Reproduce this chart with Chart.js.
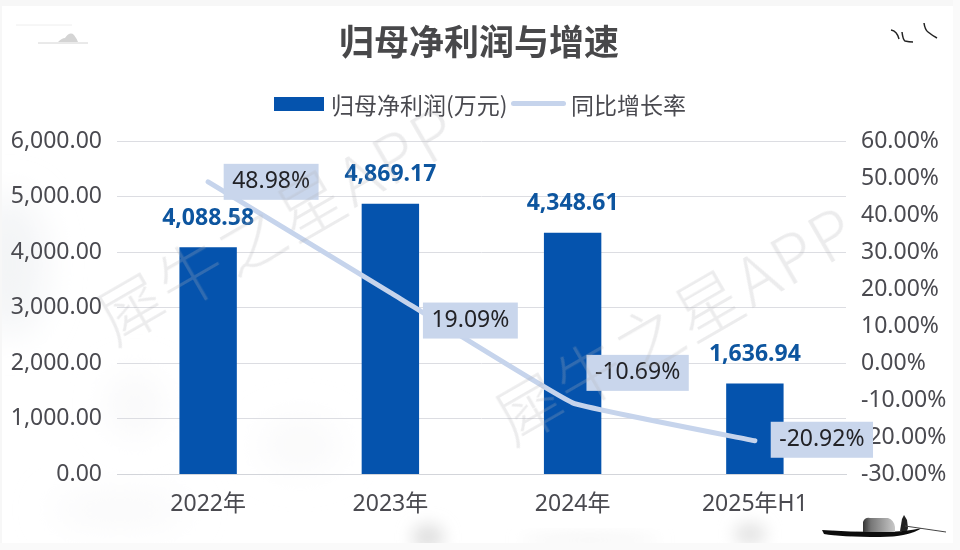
<!DOCTYPE html>
<html lang="zh">
<head>
<meta charset="utf-8">
<title>归母净利润与增速</title>
<script src="https://cdn.jsdelivr.net/npm/chart.js@4/dist/chart.umd.min.js"></script>
<style>
  html, body { margin: 0; padding: 0; background: #fff; }
  body { width: 960px; height: 550px; position: relative; overflow: hidden; font-family: "Noto Sans CJK SC", "Noto Sans", sans-serif; }
  #bg { position: absolute; inset: 0; }
  #chart { position: absolute; left: 0; top: 0; width: 960px; height: 550px; }
  h1 { position: absolute; left: 0; width: 958px; top: 17px; margin: 0; text-align: center; font-size: 35px; line-height: 46px; font-weight: 700; color: #48484a; }
  .legend { position: absolute; top: 91px; height: 26px; line-height: 26px; font-size: 23px; color: #4a4a50; white-space: nowrap; }
  .swatch { position: absolute; }
  .mark { position: absolute; height: 66px; line-height: 66px; color: #b4b4b8; opacity: .25; font-size: 66px; letter-spacing: 3px; white-space: nowrap; transform: rotate(-30deg); transform-origin: left bottom; font-family: "Noto Sans CJK SC", sans-serif; font-weight: 300; }
</style>
</head>
<body>
<svg id="bg" width="960" height="550" viewBox="0 0 960 550">
  <defs>
    <filter id="b1" x="-100%" y="-100%" width="300%" height="300%"><feGaussianBlur stdDeviation="18"/></filter>
    <filter id="b2" x="-100%" y="-100%" width="300%" height="300%"><feGaussianBlur stdDeviation="8"/></filter>
    <filter id="b3"><feGaussianBlur stdDeviation="0.4"/></filter>
    <linearGradient id="cabin"><stop offset="0" stop-color="#333"/><stop offset="0.25" stop-color="#777"/><stop offset="1" stop-color="#c8c8c8"/></linearGradient>
  </defs>
  <ellipse cx="10" cy="265" rx="35" ry="70" fill="#f3f4f6" filter="url(#b1)"/>
  <ellipse cx="135" cy="405" rx="25" ry="30" fill="#f8f8f9" filter="url(#b1)"/>
  <ellipse cx="300" cy="445" rx="40" ry="25" fill="#f9f9fa" filter="url(#b1)"/>
  <ellipse cx="120" cy="510" rx="70" ry="14" fill="#f8f8f9" filter="url(#b1)"/>
  <ellipse cx="428" cy="537" rx="16" ry="13" fill="#e0e0e0" filter="url(#b2)"/>
  <ellipse cx="750" cy="534" rx="16" ry="11" fill="#e3e3e3" filter="url(#b2)"/>
  <ellipse cx="590" cy="540" rx="70" ry="4" fill="#f0f0f0" filter="url(#b2)"/>
  <rect x="0" y="0" width="960" height="6" fill="#f7f7f7"/>
  <rect x="0" y="0" width="2" height="550" fill="#f7f7f7"/>
  <rect x="953" y="0" width="7" height="550" fill="#fafafa"/>
  <rect x="0" y="543" width="960" height="7" fill="#fafafa"/>
  <g filter="url(#b3)">
    <path d="M16 25H72" stroke="#eeeeee" stroke-width="1" fill="none"/>
    <path d="M38 43H88" stroke="#d4d4d4" stroke-width="1" fill="none"/>
    <path d="M58 42Q62 38 65 38Q70 31 74 35Q77 39 78 42Z" fill="#d4d4d4"/>
    <path d="M891 30Q897 31 899 39M902 32Q903 40 905 41Q909 42 913 42M924 23Q925 30 928 32Q933 36 937 38" stroke="#222" stroke-width="1.5" fill="none"/>
    <path d="M822 530Q850 532 880 532Q905 532 922 528Q908 537 880 537Q840 537 824 534Z" fill="#111"/>
    <path d="M863 532V522Q865 517 870 518H888Q894 520 895 527V532Z" fill="url(#cabin)"/>
    <path d="M900 531L902 519L904 515L907 520L908 528L907 531Z" fill="#222"/>
    <path d="M905 526L946 532" stroke="#444" stroke-width="1"/>
  </g>
</svg>
<canvas id="chart" width="960" height="550"></canvas>
<h1>归母净利润与增速</h1>
<div class="swatch" style="left:274px;top:97px;width:50px;height:14px;background:#0553ad"></div>
<div class="legend" style="left:331px">归母净利润(万元)</div>
<div class="swatch" style="left:511px;top:101px;width:55px;height:5px;background:#c6d4ec;border-radius:2.5px"></div>
<div class="legend" style="left:571px">同比增长率</div>
<div class="mark" style="left:117px;top:284px">犀牛之星APP</div>
<div class="mark" style="left:515px;top:384px">犀牛之星APP</div>
<script>
const categories = ["2022年", "2023年", "2024年", "2025年H1"];
const profitValues = [4088.58, 4869.17, 4348.61, 1636.94];
const growthValues = [48.98, 19.09, -10.69, -20.92];
const profitTicks = [0, 1000, 2000, 3000, 4000, 5000, 6000];
const growthTicks = [-30, -20, -10, 0, 10, 20, 30, 40, 50, 60];

const fmtMoney = (v) => v.toLocaleString("en-US", { minimumFractionDigits: 2, maximumFractionDigits: 2 });
const fmtPct = (v) => v.toFixed(2) + "%";

// Chart.js has no data labels of its own, so draw them from the scales here.
const labelPlugin = {
  id: "valueLabels",
  afterDatasetsDraw(chart) {
    const { ctx } = chart;
    const bars = chart.getDatasetMeta(1).data;
    const points = chart.getDatasetMeta(0).data;
    ctx.save();
    ctx.textBaseline = "middle";
    ctx.textAlign = "center";
    ctx.font = '700 23px "Noto Sans", sans-serif';
    ctx.fillStyle = "#0d559f";
    bars.forEach((bar, i) => ctx.fillText(fmtMoney(profitValues[i]), bar.x, bar.y - 29));

    const offsets = [[63, 0], [80, 28], [65, -30], [67, -1]];
    ctx.font = '23px "Noto Sans", sans-serif';
    points.forEach((pt, i) => {
      const cx = pt.x + offsets[i][0];
      const cy = pt.y + offsets[i][1];
      const text = fmtPct(growthValues[i]);
      const w = ctx.measureText(text).width + 17;
      ctx.fillStyle = "#c9d6ec";
      ctx.fillRect(cx - w / 2, cy - 18, w, 36);
      ctx.fillStyle = "#222226";
      ctx.fillText(text, cx, cy);
    });
    ctx.restore();
  },
};

new Chart(document.getElementById("chart"), {
  data: {
    labels: categories,
    datasets: [
      {
        type: "line",
        label: "同比增长率",
        data: growthValues,
        yAxisID: "y1",
        borderColor: "#c6d4ec",
        borderWidth: 5,
        borderCapStyle: "round",
        tension: 0.08,
        pointRadius: 0,
        order: 0,
      },
      {
        type: "bar",
        label: "归母净利润(万元)",
        data: profitValues,
        yAxisID: "y",
        backgroundColor: "#0553ad",
        barPercentage: 0.315,
        categoryPercentage: 1,
        order: 1,
      },
    ],
  },
  options: {
    responsive: false,
    animation: false,
    devicePixelRatio: 1,
    layout: { padding: { top: 141, bottom: 24, left: 0, right: 0 } },
    plugins: { legend: { display: false }, tooltip: { enabled: false } },
    scales: {
      x: {
        grid: { display: false },
        border: { color: "#d3d5da" },
        ticks: { color: "#4a4a50", font: { size: 23, family: '"Noto Sans", "Noto Sans CJK SC", sans-serif' }, padding: 8, maxRotation: 0 },
      },
      y: {
        position: "left",
        min: 0,
        max: 6000,
        afterBuildTicks: (axis) => { axis.ticks = profitTicks.map((value) => ({ value })); },
        afterFit: (axis) => { axis.width = 117; },
        border: { display: false },
        grid: { color: "#dcdde2", drawTicks: false },
        ticks: { color: "#4a4a50", font: { size: 23, family: '"Noto Sans", sans-serif' }, padding: 15, callback: (v) => fmtMoney(v) },
      },
      y1: {
        position: "right",
        min: -30,
        max: 60,
        afterBuildTicks: (axis) => { axis.ticks = growthTicks.map((value) => ({ value })); },
        afterFit: (axis) => { axis.width = 114; },
        border: { display: false },
        grid: { display: false, drawTicks: false },
        ticks: { color: "#4a4a50", font: { size: 23, family: '"Noto Sans", sans-serif' }, padding: 15, callback: (v) => fmtPct(v) },
      },
    },
  },
  plugins: [labelPlugin],
});
</script>
</body>
</html>
